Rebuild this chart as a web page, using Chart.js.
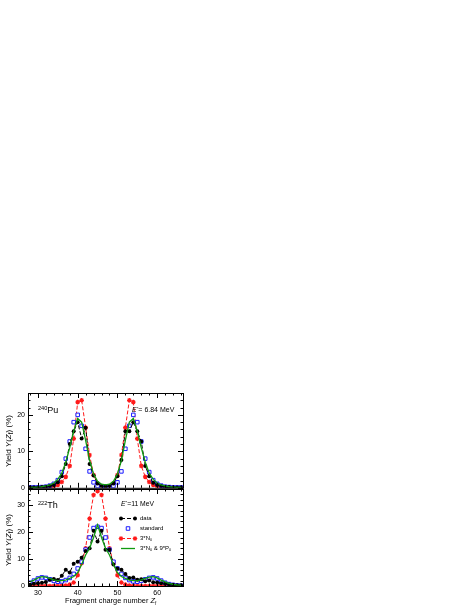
<!DOCTYPE html>
<html>
<head>
<meta charset="utf-8">
<script src="https://cdn.jsdelivr.net/npm/chart.js@4.4.1/dist/chart.umd.min.js"></script>
<style>
  body { margin: 0; background: #fff; width: 471px; height: 609px; position: relative; overflow: hidden;
         font-family: "Liberation Sans", Arial, Helvetica, sans-serif; color: #000; }
  canvas { position: absolute; left: 0; }
  .t { position: absolute; white-space: nowrap; line-height: 1; }
  .t sup { font-size: 62%; vertical-align: 0; position: relative; top: -0.55em; }
  .t sub { font-size: 62%; vertical-align: 0; position: relative; top: 0.35em; }
  .ytitle { position: absolute; font-size: 8px; white-space: nowrap; transform: translate(-50%, -50%) rotate(-90deg); line-height: 1; }
</style>
</head>
<body>
<canvas id="topChart" width="200" height="115" style="top:380px"></canvas>
<canvas id="botChart" width="200" height="129" style="top:480px"></canvas>

<div class="ytitle" style="left:10px; top:441px">Yield <i>Y</i>(<i>Z</i><sub>f</sub>) (%)</div>
<div class="ytitle" style="left:10px; top:540px">Yield <i>Y</i>(<i>Z</i><sub>f</sub>) (%)</div>

<div class="t" style="left:38px; top:406px; font-size:9px"><sup>240</sup>Pu</div>
<div class="t" style="left:132px; top:406px; font-size:7px"><i>E</i><sup>*</sup>= 6.84 MeV</div>

<div class="t" style="left:38px; top:501px; font-size:9px"><sup>222</sup>Th</div>
<div class="t" style="left:121px; top:501px; font-size:6.8px"><i>E</i><sup>*</sup>=11 MeV</div>

<div class="t" style="left:140px; top:515px; font-size:6px">data</div>
<div class="t" style="left:140px; top:525px; font-size:6px">standard</div>
<div class="t" style="left:140px; top:535px; font-size:6px">3*N<sub>0</sub></div>
<div class="t" style="left:140px; top:545px; font-size:6px">3*N<sub>0</sub> &amp; 9*P<sub>0</sub></div>

<div class="t" style="left:65px; top:597px; font-size:7.4px">Fragment charge number <i>Z</i><sub>f</sub></div>

<script>
// fragment charge Z
const zValues = [28, 29, 30, 31, 32, 33, 34, 35, 36, 37, 38, 39, 40, 41, 42, 43, 44, 45, 46, 47,
                 48, 49, 50, 51, 52, 53, 54, 55, 56, 57, 58, 59, 60, 61, 62, 63, 64, 65, 66];

// 240Pu, E* = 6.84 MeV
const puData = [0.1, 0.1, 0.1, 0.2, 0.3, 0.5, 0.8, 1.5, 3.2, 6.5, 12, 15.5, 18, 13.5, 16.5, 6.5, 3.4, 1.2, 0.5, 0.4,
                0.5, 1.2, 3.2, 7.6, 15.5, 15.5, 18, 15.5, 12.7, 6, 3.2, 1.4, 0.8, 0.5, 0.3, 0.2, 0.1, 0.1, 0.1];
const puStd  = [0.1, 0.1, 0.1, 0.2, 0.3, 0.6, 1.1, 2.1, 4.3, 8, 12.7, 18, 20, 17, 10.7, 4.5, 1.5, 0.5, 0.2, 0.2,
                0.2, 0.5, 1.5, 4.5, 10.7, 17, 20, 18, 12.7, 8, 4.3, 2.1, 1.1, 0.6, 0.3, 0.2, 0.1, 0.1, 0.1];
const puN0   = [0, 0, 0, 0, 0.1, 0.2, 0.4, 0.8, 1.6, 3, 6, 13.5, 23.5, 24, 16.5, 9, 3.5, 1.2, 0.3, 0.1,
                0.3, 1.2, 3.5, 9, 16.5, 24, 23.5, 13.5, 6, 3, 1.6, 0.8, 0.4, 0.2, 0.1, 0, 0, 0, 0];
const puN0P0 = [0.1, 0.1, 0.2, 0.3, 0.5, 0.8, 1.3, 2.3, 4, 7, 11, 15.5, 19, 18, 13, 7.5, 3.8, 1.8, 1, 0.8,
                1, 1.8, 3.8, 7.5, 13, 18, 19, 15.5, 11, 7, 4, 2.3, 1.3, 0.8, 0.5, 0.3, 0.2, 0.1, 0.1];

// 222Th, E* = 11 MeV
const thData = [0.5, 0.8, 1, 1.2, 1.5, 2.3, 2.6, 2.2, 3.8, 6, 5, 8.3, 9, 10.5, 13, 14, 20.5, 16.5, 20.5, 13.5,
                13.5, 8, 6.5, 6, 4.5, 3, 3.2, 2.3, 2.5, 1.8, 2, 1.4, 1.3, 1, 0.8, 0.6, 0.5, 0.3, 0.3];
const thStd  = [1.2, 2, 2.8, 3.2, 3, 2.5, 1.9, 1.6, 1.7, 2.2, 3, 4.5, 6.5, 9, 13.5, 18, 21.5, 22, 21.5, 18,
                13.5, 9, 6.5, 4.5, 3, 2.2, 1.7, 1.6, 1.9, 2.5, 3, 3.2, 2.8, 2, 1.2, 0.7, 0.4, 0.2, 0.1];
const thN0   = [0, 0, 0, 0, 0, 0, 0, 0, 0.1, 0.2, 0.5, 1.3, 4, 8.5, 14, 25, 33.8, 35.2, 33.8, 25,
                14, 8.5, 4, 1.3, 0.5, 0.2, 0.1, 0, 0, 0, 0, 0, 0, 0, 0, 0, 0, 0, 0];
const thN0P0 = [1.5, 2.2, 3, 3.5, 3.3, 2.8, 2.3, 2, 2, 2.2, 2.8, 3.5, 5, 8, 11.5, 14, 18, 22.7, 18, 14,
                11.5, 8, 5, 3.5, 2.8, 2.2, 2, 2, 2.3, 2.8, 3.3, 3.5, 3, 2.2, 1.5, 1, 0.6, 0.4, 0.3];

const xTickLabels = [30, 40, 50, 60];

function pts(arr) {
  return arr.map((v, i) => ({ x: zValues[i], y: v }));
}

function makeSets(d, s, n, g) {
  return [
    { label: 'data', data: pts(d), borderColor: '#000', backgroundColor: '#000', borderWidth: 1,
      borderDash: [4, 2], pointStyle: 'circle', pointRadius: 2, pointBorderWidth: 0, order: 1 },
    { label: 'standard', data: pts(s), showLine: false, borderColor: '#1a1aff', backgroundColor: '#fff',
      pointStyle: 'rect', pointRadius: 2.5, pointBorderWidth: 1, order: 2 },
    { label: '3*N0', data: pts(n), borderColor: '#ff1a1a', backgroundColor: '#ff1a1a', borderWidth: 1,
      borderDash: [4, 2], pointStyle: 'star', pointRadius: 2.3, pointBorderWidth: 1.2, order: 3 },
    { label: '3*N0 & 9*P0', data: pts(g), borderColor: '#109a10', borderWidth: 1.3, pointRadius: 0, order: 0 }
  ];
}

// frame + inward ticks on all four sides (ROOT style)
const frameTicks = {
  id: 'frameTicks',
  afterDraw(chart, args, opts) {
    const { ctx, chartArea: a } = chart;
    const x = chart.scales.x, y = chart.scales.y;
    ctx.save();
    ctx.strokeStyle = '#000';
    ctx.lineWidth = 1;
    ctx.beginPath();
    for (let v = 28; v <= 66; v += 2) {
      const px = Math.round(x.getPixelForValue(v)) + 0.5;
      const len = v % 10 === 0 ? 5 : 2.5;
      ctx.moveTo(px, a.bottom); ctx.lineTo(px, a.bottom - len);
      ctx.moveTo(px, a.top); ctx.lineTo(px, a.top + len);
    }
    for (let v = 0; v <= y.max; v += 2) {
      const py = Math.round(y.getPixelForValue(v)) + 0.5;
      const len = v % 10 === 0 ? 5 : 2.5;
      ctx.moveTo(a.left, py); ctx.lineTo(a.left + len, py);
      ctx.moveTo(a.right, py); ctx.lineTo(a.right - len, py);
    }
    ctx.stroke();
    ctx.strokeRect(a.left + 0.5, a.top + 0.5, a.right - a.left, a.bottom - a.top);
    ctx.restore();
  }
};

// legend symbols drawn with the datasets' own styles
const legendMarks = {
  id: 'legendMarks',
  afterDraw(chart, args, opts) {
    if (!opts.rows) return;
    const ctx = chart.ctx;
    opts.rows.forEach(r => {
      const ds = chart.data.datasets[r.index];
      ctx.save();
      if (ds.showLine !== false) {
        ctx.strokeStyle = ds.borderColor;
        ctx.lineWidth = ds.borderWidth;
        ctx.setLineDash(ds.borderDash || []);
        ctx.beginPath();
        ctx.moveTo(r.x0, r.y); ctx.lineTo(r.x1, r.y);
        ctx.stroke();
      }
      ctx.setLineDash([]);
      if (ds.pointRadius > 0) {
        ctx.strokeStyle = ds.borderColor;
        ctx.fillStyle = ds.backgroundColor;
        ctx.lineWidth = ds.pointBorderWidth;
        r.marks.forEach(mx => {
          Chart.helpers.drawPoint(ctx, { pointStyle: ds.pointStyle, radius: ds.pointRadius,
            borderWidth: ds.pointBorderWidth, rotation: 0 }, mx, r.y);
        });
      }
      ctx.restore();
    });
  }
};

function makeChart(id, sets, yMax, yLabels, showX, padding, legendRows) {
  return new Chart(document.getElementById(id), {
    type: 'line',
    data: { datasets: sets },
    options: {
      responsive: false,
      animation: false,
      layout: { padding: padding },
      plugins: { legend: { display: false }, tooltip: { enabled: false },
                 legendMarks: { rows: legendRows } },
      elements: { line: { tension: 0 } },
      scales: {
        x: {
          type: 'linear', min: 27.5, max: 66.5, display: showX,
          grid: { display: false, drawTicks: false }, border: { display: false },
          afterBuildTicks: s => { s.ticks = xTickLabels.map(v => ({ value: v })); },
          afterFit: s => { s.height = showX ? 23 : 0; },
          ticks: { padding: 3, maxRotation: 0, autoSkip: false, color: '#000',
                   font: { family: '"Liberation Sans", Arial', size: 7 } }
        },
        y: {
          min: 0, max: yMax,
          grid: { display: false, drawTicks: false }, border: { display: false },
          afterBuildTicks: s => { s.ticks = yLabels.map(v => ({ value: v })); },
          afterFit: s => { s.width = 28; },
          ticks: { padding: 3, color: '#000', font: { family: '"Liberation Sans", Arial', size: 7 } }
        }
      }
    },
    plugins: [frameTicks, legendMarks]
  });
}

makeChart('topChart', makeSets(puData, puStd, puN0, puN0P0), 26, [0, 10, 20], false,
  { top: 13, right: 17, bottom: 6, left: 0 }, null);

makeChart('botChart', makeSets(thData, thStd, thN0, thN0P0), 36, [0, 10, 20, 30], true,
  { top: 9, right: 17, bottom: 0, left: 0 },
  [
    { index: 0, x0: 121, x1: 135, y: 38.5, marks: [121, 135] },
    { index: 1, x0: 128, x1: 128, y: 48.5, marks: [128] },
    { index: 2, x0: 121, x1: 135, y: 58.5, marks: [121, 135] },
    { index: 3, x0: 121, x1: 135, y: 68.5, marks: [] }
  ]);
</script>
</body>
</html>
